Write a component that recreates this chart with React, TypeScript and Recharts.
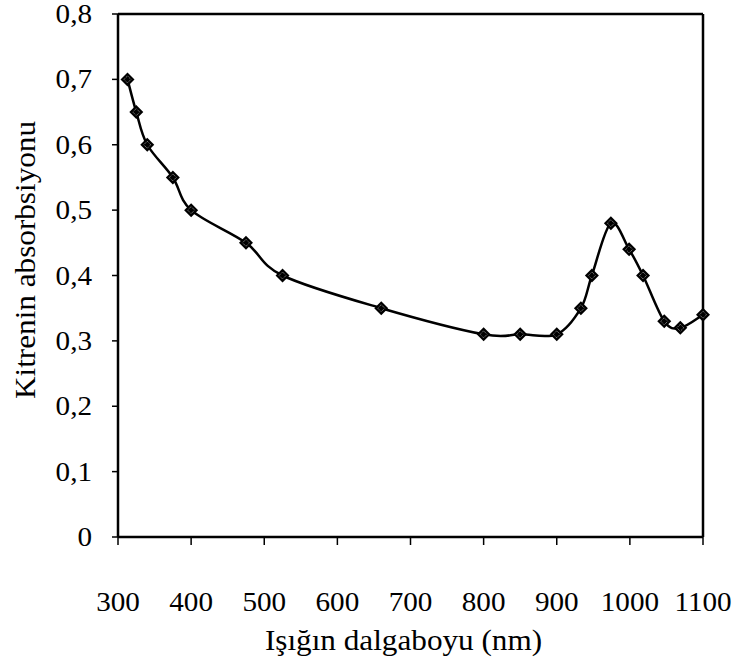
import React from "react";
import {
  LineChart,
  Line,
  XAxis,
  YAxis,
  ReferenceLine,
  Label,
} from "recharts";

const wavelengths = [313, 325, 340, 375, 400, 475, 525, 660, 800, 850, 900, 933, 948, 974, 999, 1018, 1047, 1069, 1100];
const absorbance = [0.70, 0.65, 0.60, 0.55, 0.50, 0.45, 0.40, 0.35, 0.31, 0.31, 0.31, 0.35, 0.40, 0.48, 0.44, 0.40, 0.33, 0.32, 0.34];
const xTicks = [300, 400, 500, 600, 700, 800, 900, 1000, 1100];
const yTicks = [0, 0.1, 0.2, 0.3, 0.4, 0.5, 0.6, 0.7, 0.8];

const data = wavelengths.map((w, i) => ({ w, a: absorbance[i] }));

const FONT = "'Liberation Serif', 'DejaVu Serif', serif";

// Excel-like smoothed line (Catmull-Rom as cubic beziers)
const smoothCurve = (context: any) => {
  let pts: number[][] = [];
  return {
    areaStart() {},
    areaEnd() {},
    lineStart() {
      pts = [];
    },
    point(x: number, y: number) {
      pts.push([+x, +y]);
    },
    lineEnd() {
      if (!pts.length) return;
      context.moveTo(pts[0][0], pts[0][1]);
      for (let i = 0; i < pts.length - 1; i++) {
        const p0 = pts[i - 1] || pts[i];
        const p1 = pts[i];
        const p2 = pts[i + 1];
        const p3 = pts[i + 2] || p2;
        context.bezierCurveTo(
          p1[0] + (p2[0] - p0[0]) / 6,
          p1[1] + (p2[1] - p0[1]) / 6,
          p2[0] - (p3[0] - p1[0]) / 6,
          p2[1] - (p3[1] - p1[1]) / 6,
          p2[0],
          p2[1]
        );
      }
    },
  };
};

const Diamond = (props: any) => {
  const { cx, cy } = props;
  if (cx == null || cy == null) return null;
  const r = 7;
  const s = 3.5;
  return (
    <g>
      <path
        d={`M${cx},${cy - r} L${cx + r},${cy} L${cx},${cy + r} L${cx - r},${cy} Z`}
        fill="#000"
      />
      <path
        d={`M${cx},${cy - s} L${cx + s},${cy} L${cx},${cy + s} L${cx - s},${cy} Z`}
        fill="none"
        stroke="#bbb"
        strokeWidth={0.8}
        strokeDasharray="1 1"
      />
    </g>
  );
};

const Txt = ({ x, y, anchor, children, rotate, size, sx }: any) => (
  <text
    transform={`translate(${x},${y})${rotate ? " rotate(-90)" : ""} scale(${sx},1)`}
    textAnchor={anchor}
    fontFamily={FONT}
    fontSize={size}
    fill="#000"
  >
    {children}
  </text>
);

const XTick = (props: any) => {
  const { x, y, payload } = props;
  return <Txt x={x} y={y + 64} anchor="middle" size={27} sx={1.08}>{payload.value}</Txt>;
};

const YTick = (props: any) => {
  const { x, y, payload } = props;
  const v = payload.value === 0 ? "0" : payload.value.toFixed(1).replace(".", ",");
  return <Txt x={x - 18} y={y + 9} anchor="end" size={27} sx={1.08}>{v}</Txt>;
};

export default function App() {
  return (
    <div style={{ position: "absolute", left: 0, top: 0, width: 735, height: 667, background: "#fff" }}>
      <LineChart width={735} height={667} data={data} margin={{ top: 14, right: 32, bottom: 0, left: 0 }}>
        <XAxis
          dataKey="w"
          type="number"
          domain={[300, 1100]}
          ticks={xTicks}
          axisLine={{ stroke: "#000", strokeWidth: 2.5 }}
          tickLine={{ stroke: "#000", strokeWidth: 1.5 }}
          tickSize={8}
          tick={<XTick />}
          height={130}
          interval={0}
        >
          <Label
            content={(p: any) => {
              const vb = p.viewBox;
              return (
                <Txt x={vb.x + vb.width / 2 - 7} y={vb.y + 113} anchor="middle" size={30} sx={1.04}>
                  Işığın dalgaboyu (nm)
                </Txt>
              );
            }}
          />
        </XAxis>
        <YAxis
          type="number"
          domain={[0, 0.8]}
          ticks={yTicks}
          axisLine={{ stroke: "#000", strokeWidth: 2.5 }}
          tickLine={{ stroke: "#000", strokeWidth: 1.5 }}
          tickSize={6}
          tick={<YTick />}
          width={118}
          interval={0}
        >
          <Label
            content={() => (
              <Txt x={35} y={260} anchor="middle" rotate size={30} sx={1.04}>
                Kitrenin absorbsiyonu
              </Txt>
            )}
          />
        </YAxis>
        <ReferenceLine y={0.8} stroke="#000" strokeWidth={2.5} />
        <ReferenceLine x={1100} stroke="#000" strokeWidth={2.5} />
        <Line
          type={smoothCurve as any}
          dataKey="a"
          stroke="#000"
          strokeWidth={2.5}
          dot={<Diamond />}
          activeDot={false}
          isAnimationActive={false}
        />
      </LineChart>
    </div>
  );
}
